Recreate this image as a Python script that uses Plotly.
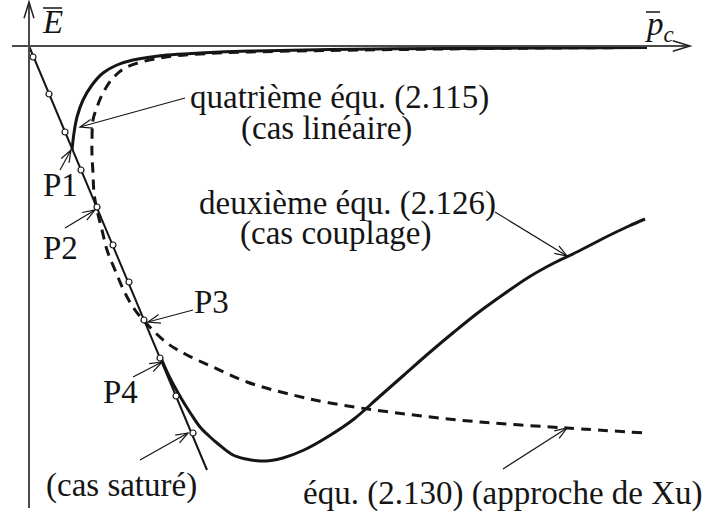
import math
import plotly.graph_objects as go

# Plane: x = p_c (right), y = E (down is negative). 1 unit = 100 px on both axes.

# Saturated case: straight line through the origin, with its marked points
sat_line_x = [0.0, 1.78]
sat_line_y = [0.0, -4.24]
sat_pts_x = [0.04, 0.20, 0.36, 0.52, 0.68, 0.84, 1.00, 1.15, 1.31, 1.47, 1.64]
sat_pts_y = [-0.11, -0.48, -0.86, -1.24, -1.61, -1.99, -2.36, -2.74, -3.12, -3.50, -3.87]

# Fourth equation (2.115), linear case
lin_x = [0.43, 0.45, 0.48, 0.54, 0.63, 0.74, 0.88, 1.04, 1.38, 1.71, 2.21, 3.01, 4.21, 5.21, 6.18]
lin_y = [-1.04, -0.87, -0.71, -0.54, -0.39, -0.27, -0.19, -0.14, -0.09, -0.07, -0.05, -0.035, -0.025, -0.02, -0.015]

# Equation (2.130), Xu's approach
xu_x = [6.18, 5.21, 3.71, 2.21, 1.71, 1.31, 0.98, 0.84, 0.74, 0.68, 0.64, 0.63, 0.63, 0.64, 0.65,
        0.68, 0.73, 0.78, 0.86, 0.96, 1.06, 1.16, 1.38, 1.58, 1.84, 2.18, 2.56, 3.01, 3.68, 4.51,
        5.38, 6.16]
xu_y = [-0.015, -0.02, -0.035, -0.06, -0.08, -0.12, -0.21, -0.32, -0.47, -0.61, -0.74, -0.94, -1.09,
        -1.27, -1.47, -1.64, -1.84, -2.04, -2.24, -2.47, -2.64, -2.76, -2.97, -3.09, -3.21, -3.36,
        -3.47, -3.57, -3.67, -3.76, -3.82, -3.87]

# Second equation (2.126), coupled case
coup_x = [1.32, 1.41, 1.52, 1.62, 1.71, 1.80, 1.88, 2.04, 2.17, 2.31, 2.42, 2.54, 2.75, 3.00, 3.25,
          3.50, 3.75, 4.00, 4.25, 4.50, 4.75, 5.00, 5.25, 5.50, 5.75, 6.00, 6.16]
coup_y = [-3.12, -3.32, -3.52, -3.68, -3.81, -3.90, -3.97, -4.09, -4.13, -4.15, -4.145, -4.12, -4.04,
          -3.90, -3.73, -3.51, -3.29, -3.07, -2.86, -2.66, -2.48, -2.31, -2.17, -2.05, -1.92, -1.80,
          -1.73]

# Labels: (text, x, y)
labels = [
    ("quatrième équ. (2.115)", 3.10, -0.51),
    ("(cas linéaire)", 2.97, -0.82),
    ("deuxième équ. (2.126)", 3.18, -1.57),
    ("(cas couplage)", 3.06, -1.87),
    ("équ. (2.130) (approche de Xu)", 4.74, -4.47),
    ("(cas saturé)", 0.92, -4.39),
    ("P1", 0.31, -1.39),
    ("P2", 0.31, -2.02),
    ("P3", 1.82, -2.56),
    ("P4", 0.91, -3.46),
]

# Pointer arrows: (tail, tip)
pointers = [
    ((1.56, -0.52), (0.51, -0.81)),
    ((0.31, -1.24), (0.42, -1.04)),
    ((0.36, -1.82), (0.66, -1.64)),
    ((1.64, -2.64), (1.19, -2.76)),
    ((1.04, -3.31), (1.33, -3.16)),
    ((1.11, -4.14), (1.59, -3.87)),
    ((4.66, -1.66), (5.38, -2.10)),
    ((4.74, -4.23), (5.38, -3.82)),
]

INK = "#151515"
FONT = "Liberation Serif"

fig = go.Figure()

fig.add_trace(go.Scatter(x=lin_x, y=lin_y, mode="lines",
                         line=dict(color=INK, width=3, shape="spline", smoothing=1.0)))
fig.add_trace(go.Scatter(x=xu_x, y=xu_y, mode="lines",
                         line=dict(color=INK, width=3, dash="10px,7px", shape="spline", smoothing=1.0)))
fig.add_trace(go.Scatter(x=coup_x, y=coup_y, mode="lines",
                         line=dict(color=INK, width=3, shape="spline", smoothing=1.0)))
fig.add_trace(go.Scatter(x=sat_line_x, y=sat_line_y, mode="lines",
                         line=dict(color=INK, width=2)))
fig.add_trace(go.Scatter(x=sat_pts_x, y=sat_pts_y, mode="markers",
                         marker=dict(size=6, color="white", line=dict(color=INK, width=1.2))))

shapes = []


def open_head(tail, tip, length, angle_deg, width, color):
    dx, dy = tail[0] - tip[0], tail[1] - tip[1]
    n = math.hypot(dx, dy)
    ux, uy = dx / n, dy / n
    a = math.radians(angle_deg)
    w = []
    for s in (1, -1):
        c, sn = math.cos(s * a), math.sin(s * a)
        rx, ry = ux * c - uy * sn, ux * sn + uy * c
        w.append((tip[0] + length * rx, tip[1] + length * ry))
    path = f"M{w[0][0]},{w[0][1]} L{tip[0]},{tip[1]} L{w[1][0]},{w[1][1]}"
    return dict(type="path", path=path, xref="x", yref="y",
                line=dict(color=color, width=width), layer="above")


# Coordinate axes with open arrowheads
AXIS = "#4a4a4a"
shapes.append(dict(type="line", x0=0, y0=-4.62, x1=0, y1=0.44, xref="x", yref="y",
                   line=dict(color=AXIS, width=2)))
shapes.append(dict(type="line", x0=-0.17, y0=0, x1=6.61, y1=0, xref="x", yref="y",
                   line=dict(color=AXIS, width=2)))
shapes.append(open_head((0, -4.62), (0, 0.44), 0.17, 17, 1.5, "#222"))
shapes.append(open_head((-0.17, 0), (6.61, 0), 0.18, 17, 1.5, "#222"))

# Pointer arrows
for tail, tip in pointers:
    shapes.append(dict(type="line", x0=tail[0], y0=tail[1], x1=tip[0], y1=tip[1],
                       xref="x", yref="y", line=dict(color=INK, width=1.2)))
    shapes.append(open_head(tail, tip, 0.13, 20, 1.2, INK))

# Overlines on the axis titles
shapes.append(dict(type="line", x0=0.14, y0=0.38, x1=0.33, y1=0.38, xref="x", yref="y",
                   line=dict(color=INK, width=1.5)))
shapes.append(dict(type="line", x0=6.17, y0=0.34, x1=6.31, y1=0.34, xref="x", yref="y",
                   line=dict(color=INK, width=1.5)))

annotations = []
for text, x, y in labels:
    annotations.append(dict(text=text, x=x, y=y, xref="x", yref="y", showarrow=False,
                            xanchor="center", yanchor="middle",
                            font=dict(family=FONT, size=33, color=INK)))

annotations.append(dict(text="<i>E</i>", x=0.235, y=0.24, xref="x", yref="y", showarrow=False,
                        xanchor="center", yanchor="middle",
                        font=dict(family=FONT, size=33, color=INK)))
annotations.append(dict(text="<i>p</i><sub><i>c</i></sub>", x=6.30, y=0.20, xref="x", yref="y",
                        showarrow=False, xanchor="center", yanchor="middle",
                        font=dict(family=FONT, size=33, color=INK)))

fig.update_layout(
    width=710, height=524,
    margin=dict(l=0, r=0, t=0, b=0),
    paper_bgcolor="white", plot_bgcolor="white",
    showlegend=False,
    font=dict(family=FONT),
    xaxis=dict(range=[-0.29, 6.81], visible=False, fixedrange=True),
    yaxis=dict(range=[-4.78, 0.46], visible=False, fixedrange=True),
    shapes=shapes,
    annotations=annotations,
)

fig.write_html("out.html")
